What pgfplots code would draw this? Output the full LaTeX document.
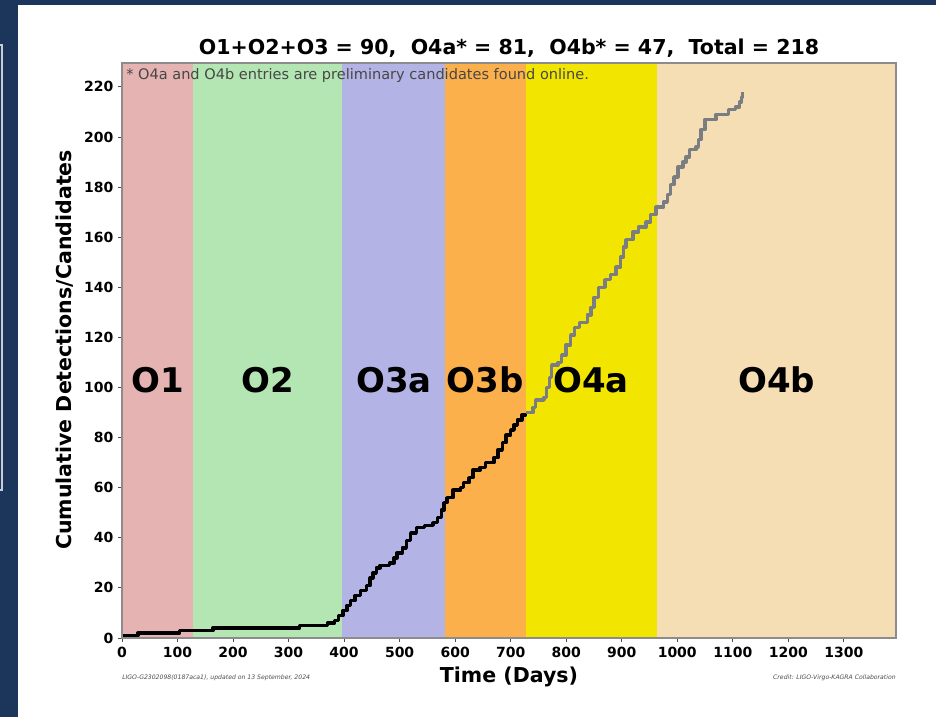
\documentclass[border=0pt]{standalone}
\usepackage{fontspec}
\setmainfont{DejaVu Sans}
\usepackage{pgfplots}
\pgfplotsset{compat=1.18}

\definecolor{navybg}{RGB}{27,54,90}
\definecolor{cOone}{RGB}{228,179,178}
\definecolor{cOtwo}{RGB}{179,230,178}
\definecolor{cOthreea}{RGB}{179,179,229}
\definecolor{cOthreeb}{RGB}{252,176,76}
\definecolor{cOfoura}{RGB}{242,230,0}
\definecolor{cOfourb}{RGB}{245,221,180}
\definecolor{lateline}{RGB}{122,126,130}

\begin{document}
\begin{tikzpicture}
% page background: dark slide edge, white panel
\fill[navybg] (0,0) rectangle (702pt,-537.75pt);
\draw[white!75!navybg, line width=1pt] (0pt,-33.75pt) -- (1.5pt,-33.75pt) -- (1.5pt,-367.5pt) -- (0pt,-367.5pt);
\fill[white] (13.5pt,-3.75pt) rectangle (702pt,-537.75pt);

\begin{axis}[
    at={(91.5pt,-478.5pt)}, anchor=south west,
    scale only axis,
    width=580.5pt, height=431.25pt,
    xmin=0, xmax=1394,
    ymin=0, ymax=229.5,
    xtick={0,100,...,1300},
    ytick={0,20,...,220},
    xtick pos=lower, ytick pos=left,
    tick align=outside,
    major tick length=3pt,
    tick style={black!70, line width=0.6pt},
    axis line style={black!45, line width=0.9pt},
    ticklabel style={font=\fontsize{10.5}{12}\selectfont\bfseries},
    /pgf/number format/assume math mode=true,
    /pgf/number format/set thousands separator={},
    axis on top,
]
% observing runs
\addplot[draw=none, fill=cOone]    coordinates {(0,229.5) (128,229.5)} \closedcycle;
\addplot[draw=none, fill=cOtwo]    coordinates {(128,229.5) (397,229.5)} \closedcycle;
\addplot[draw=none, fill=cOthreea] coordinates {(397,229.5) (582,229.5)} \closedcycle;
\addplot[draw=none, fill=cOthreeb] coordinates {(582,229.5) (727,229.5)} \closedcycle;
\addplot[draw=none, fill=cOfoura]  coordinates {(727,229.5) (964,229.5)} \closedcycle;
\addplot[draw=none, fill=cOfourb]  coordinates {(964,229.5) (1394,229.5)} \closedcycle;

% O1-O3 confident detections
\addplot[const plot, black, line width=2.6pt, line join=round] coordinates {
(0,1) (29,2) (104,3) (164,4) (320,5) (370,6) (383,7) (390,9) (398,11)
(405,13) (412,15) (420,17) (430,19) (440,21) (447,24) (452,26) (458,28)
(465,29) (482,30) (490,32) (495,34) (505,36) (512,39) (520,42) (530,44)
(545,45) (560,46) (568,48) (575,51) (580,54) (585,56) (596,59) (610,60)
(615,62) (625,64) (632,67) (645,68) (655,70) (670,72) (677,75) (685,78)
(692,81) (700,83) (706,85) (712,87) (720,89) (727,90)
};
% O4 preliminary candidates
\addplot[const plot, lateline, line width=2.6pt, line join=round] coordinates {
(727,90) (740,92) (745,95) (760,96) (765,100) (770,104) (774,109) (785,110)
(792,113) (800,117) (808,121) (815,124) (824,126) (838,129) (845,132)
(850,136) (858,140) (870,143) (880,145) (890,148) (898,152) (903,156)
(908,159) (920,162) (930,164) (944,166) (952,169) (962,172) (975,174)
(982,177) (988,181) (994,184) (1001,188) (1010,190) (1016,192) (1022,195)
(1034,196) (1038,199) (1043,203) (1050,207) (1070,209) (1085,209)
(1092,211) (1105,212) (1112,214) (1116,216) (1118,218)
};

\begin{scope}[every node/.style={font=\fontsize{25.5}{30}\selectfont\bfseries}]
\node at (axis cs:64,103) {O1};
\node at (axis cs:262,103) {O2};
\node at (axis cs:490,103) {O3a};
\node at (axis cs:654,103) {O3b};
\node at (axis cs:845,103) {O4a};
\node at (axis cs:1179,103) {O4b};
\end{scope}
\end{axis}

% texts around the axis
\node[font=\fontsize{15.4}{18}\selectfont\bfseries] at (381.75pt,-36pt)
  {O1+O2+O3 = 90,\ \ O4a* = 81,\ \ O4b* = 47,\ \ Total = 218};
\node[anchor=west, inner sep=0pt, text=black!72, font=\fontsize{10.9}{12}\selectfont]
  at (94.5pt,-56.25pt) {* O4a and O4b entries are preliminary candidates found online.};
\node[font=\fontsize{15.4}{18}\selectfont\bfseries] at (381.75pt,-507.75pt) {Time (Days)};
\node[rotate=90, font=\fontsize{15.4}{18}\selectfont\bfseries] at (48.75pt,-262.5pt)
  {Cumulative Detections/Candidates};
\node[anchor=west, inner sep=0pt, text=black!70, font=\fontsize{4.6}{5}\selectfont\itshape]
  at (91.5pt,-508pt) {LIGO-G2302098(0187aca1), updated on 13 September, 2024};
\node[anchor=east, inner sep=0pt, text=black!70, font=\fontsize{4.6}{5}\selectfont\itshape]
  at (672pt,-508pt) {Credit: LIGO-Virgo-KAGRA Collaboration};

\pgfresetboundingbox
\path (0,0) rectangle (702pt,-537.75pt);
\end{tikzpicture}
\end{document}
